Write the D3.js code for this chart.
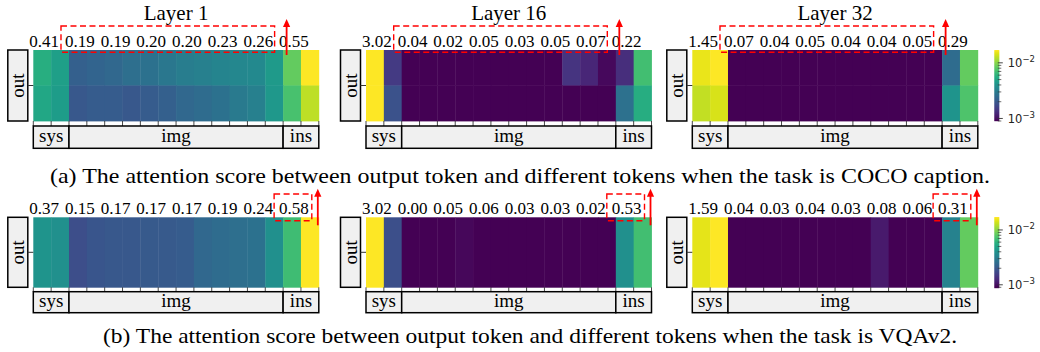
<!DOCTYPE html>
<html><head><meta charset="utf-8">
<script src="https://cdn.jsdelivr.net/npm/d3@7"></script>
<style>html,body{margin:0;padding:0;background:#fff;}svg{display:block;}</style>
</head><body>
<script>
// ---------------- data ----------------
const layers = ["Layer 1", "Layer 16", "Layer 32"];
const groupNames = ["sys", "img", "ins"];
const groupStart = [0, 2, 14];
const groupEnd = [2, 14, 16];
const rowNamesLabel = "out";
const captions = [
  "(a) The attention score between output token and different tokens when the task is COCO caption.",
  "(b) The attention score between output token and different tokens when the task is VQAv2."
];
const cbTicks = [0.001, 0.01];
const cbTickLabels = ["−3", "−2"];
const cbMinor = [0.0009, 0.002, 0.003, 0.004, 0.005, 0.006, 0.007, 0.008, 0.009];

// COCO caption, two output rows, 16 token columns (2 sys, 12 img, 2 ins)
const cocoL1 = [
  [0.0057, 0.0047, 0.0022, 0.0023, 0.0024, 0.0026, 0.0027, 0.0029, 0.0031, 0.0032, 0.0034, 0.0035, 0.0036, 0.0044, 0.0084, 0.018],
  [0.0052, 0.0045, 0.0020, 0.0021, 0.0021, 0.0020, 0.0021, 0.0022, 0.0024, 0.0025, 0.0027, 0.0030, 0.0032, 0.0043, 0.0072, 0.0127]
];
const cocoL16 = [
  [0.018, 0.00148, 0.0008, 0.0008, 0.0008, 0.0008, 0.0008, 0.0008, 0.0008, 0.0008, 0.0008, 0.0014, 0.00124, 0.00096, 0.00132, 0.0070],
  [0.018, 0.00188, 0.0008, 0.0008, 0.0008, 0.0008, 0.0008, 0.0008, 0.0008, 0.0008, 0.0008, 0.0008, 0.0008, 0.0008, 0.00267, 0.0056]
];
const cocoL32 = [
  [0.0155, 0.018, 0.0008, 0.0008, 0.0008, 0.0008, 0.0008, 0.0008, 0.0008, 0.0008, 0.0008, 0.0008, 0.0008, 0.0008, 0.0025, 0.0084],
  [0.0130, 0.0143, 0.0008, 0.0008, 0.0008, 0.0008, 0.0008, 0.0008, 0.0008, 0.0008, 0.0008, 0.0008, 0.0008, 0.0008, 0.0041, 0.0075]
];
// VQAv2, one output row
const vqaL1 = [
  [0.0041, 0.0039, 0.0018, 0.00195, 0.0020, 0.0020, 0.00205, 0.00205, 0.0021, 0.0024, 0.0025, 0.0026, 0.0027, 0.0039, 0.0068, 0.018]
];
const vqaL16 = [
  [0.018, 0.00183, 0.0008, 0.0008, 0.0008, 0.00095, 0.0008, 0.0008, 0.0008, 0.0008, 0.0008, 0.0008, 0.0008, 0.0008, 0.0039, 0.0070]
];
const vqaL32 = [
  [0.0151, 0.018, 0.0008, 0.0008, 0.0008, 0.0008, 0.0008, 0.0008, 0.0008, 0.0008, 0.0011, 0.00088, 0.00085, 0.00088, 0.0033, 0.0084]
];

// numbers printed above each pair of columns
const cocoNums = [
  ["0.41", "0.19", "0.19", "0.20", "0.20", "0.23", "0.26", "0.55"],
  ["3.02", "0.04", "0.02", "0.05", "0.03", "0.05", "0.07", "0.22"],
  ["1.45", "0.07", "0.04", "0.05", "0.04", "0.04", "0.05", "0.29"]
];
const vqaNums = [
  ["0.37", "0.15", "0.17", "0.17", "0.17", "0.19", "0.24", "0.58"],
  ["3.02", "0.00", "0.05", "0.06", "0.03", "0.03", "0.02", "0.53"],
  ["1.59", "0.04", "0.03", "0.04", "0.03", "0.08", "0.06", "0.31"]
];

// ---------------- layout ----------------
const W = 1040, H = 352;
const serif = "'Liberation Serif', 'Times New Roman', serif";
const sans = "'DejaVu Sans', sans-serif";
const RED = "#ff0000";
const panelX = [33.3, 366, 692.3];
const panelW = 285.5;
const rowsLayout = [
  { top: 50, bottom: 121, labTop: 126, labBot: 148.3, cap: 182.5, mats: [cocoL1, cocoL16, cocoL32], nums: cocoNums, capX: [50, 990] },
  { top: 217.3, bottom: 287.3, labTop: 291.7, labBot: 312.7, cap: 343, mats: [vqaL1, vqaL16, vqaL32], nums: vqaNums, capX: [103, 957] }
];

const color = d3.scaleSequentialLog(d3.interpolateViridis).domain([0.0009, 0.017]).clamp(true);

const svg = d3.select("body").append("svg").attr("width", W).attr("height", H);

function arrow(g, x, y0, yTip) {
  g.append("line").attr("x1", x).attr("x2", x).attr("y1", y0).attr("y2", yTip + 6)
    .attr("stroke", RED).attr("stroke-width", 1.8);
  g.append("path").attr("d", `M${x},${yTip} L${x - 3.6},${yTip + 8} L${x + 3.6},${yTip + 8} Z`).attr("fill", RED);
}

rowsLayout.forEach((R, ri) => {
  R.mats.forEach((mat, pi) => {
    const x0 = panelX[pi];
    const g = svg.append("g");
    const xs = d3.scaleBand().domain(d3.range(16)).range([x0, x0 + panelW]);
    const ys = d3.scaleBand().domain(d3.range(mat.length)).range([R.top, R.bottom]);
    const bw = xs.bandwidth();

    // cells
    mat.forEach((row, i) => {
      g.selectAll(null).data(row).enter().append("rect")
        .attr("x", (d, j) => xs(j)).attr("y", ys(i))
        .attr("width", bw + 0.4).attr("height", ys.bandwidth() + 0.4)
        .attr("fill", d => color(d));
    });

    // "out" box and y tick
    const ym = (R.top + R.bottom) / 2;
    g.append("rect").attr("x", x0 - 25.5).attr("y", R.top).attr("width", 20).attr("height", R.bottom - R.top)
      .attr("fill", "#f0f0f0").attr("stroke", "#000").attr("stroke-width", 1.5);
    g.append("line").attr("x1", x0 - 5.5).attr("x2", x0).attr("y1", ym).attr("y2", ym)
      .attr("stroke", "#333").attr("stroke-width", 1);
    g.append("text").attr("transform", `translate(${x0 - 15.5},${ym}) rotate(-90)`)
      .attr("text-anchor", "middle").attr("dy", "0.33em")
      .attr("font-family", serif).attr("font-size", 19).text(rowNamesLabel);

    // x ticks at column edges
    g.selectAll(null).data(d3.range(17)).enter().append("line")
      .attr("x1", k => k < 16 ? xs(k) : x0 + panelW).attr("x2", k => k < 16 ? xs(k) : x0 + panelW)
      .attr("y1", R.bottom).attr("y2", R.labTop)
      .attr("stroke", "#333").attr("stroke-width", 0.9);

    // group label boxes
    groupNames.forEach((nm, k) => {
      const a = xs(groupStart[k]);
      const b = groupEnd[k] < 16 ? xs(groupEnd[k]) : x0 + panelW;
      g.append("rect").attr("x", a).attr("y", R.labTop).attr("width", b - a).attr("height", R.labBot - R.labTop)
        .attr("fill", "#f0f0f0").attr("stroke", "#000").attr("stroke-width", 1.5);
      g.append("text").attr("x", (a + b) / 2).attr("y", R.labTop + 15.5).attr("text-anchor", "middle")
        .attr("font-family", serif).attr("font-size", 19).text(nm);
    });

    // numbers above column pairs
    R.nums[pi].forEach((t, k) => {
      g.append("text").attr("x", xs(2 * k) + bw - 7).attr("y", R.top - 3.2).attr("text-anchor", "middle")
        .attr("font-family", serif).attr("font-size", 17).text(t);
    });

    // title
    if (ri === 0) {
      g.append("text").attr("x", x0 + panelW / 2).attr("y", 20).attr("text-anchor", "middle")
        .attr("font-family", serif).attr("font-size", 21).text(layers[pi]);
    }

    // red dashed box + arrow
    if (ri === 0) {
      const a = xs(2) - 8, b = xs(14) - 8.5;
      g.append("rect").attr("x", a).attr("y", R.top - 24).attr("width", b - a).attr("height", 26.3)
        .attr("fill", "none").attr("stroke", RED).attr("stroke-width", 1.4).attr("stroke-dasharray", "6,3.5");
      arrow(g, xs(14) + 3.5, R.top + 5, R.top - 31);
    } else {
      const a = xs(14) - 9, b = x0 + panelW - 7;
      g.append("rect").attr("x", a).attr("y", R.top - 23.3).attr("width", b - a).attr("height", 26.7)
        .attr("fill", "none").attr("stroke", RED).attr("stroke-width", 1.4).attr("stroke-dasharray", "6,3.5");
      arrow(g, x0 + panelW - 1, R.top + 8, R.top - 28.5);
    }
  });

  // colorbar
  const cb = svg.append("g");
  const cx = 994.3, cw = 5;
  const cy = d3.scaleLog().domain(color.domain()).range([R.bottom, R.top]);
  d3.range(Math.floor(R.top), Math.ceil(R.bottom)).forEach(py => {
    cb.append("rect").attr("x", cx).attr("y", py).attr("width", cw).attr("height", 1.2)
      .attr("fill", color(cy.invert(py + 0.5)));
  });
  cb.selectAll(null).data(cbMinor.filter(v => cy(v) <= R.bottom + 0.5 && cy(v) >= R.top)).enter().append("line")
    .attr("x1", cx + cw - 1.5).attr("x2", cx + cw + 2).attr("y1", d => cy(d)).attr("y2", d => cy(d))
    .attr("stroke", "#333").attr("stroke-width", 0.7);
  cbTicks.forEach((v, k) => {
    const y = cy(v);
    cb.append("line").attr("x1", cx + cw - 1.5).attr("x2", cx + cw + 3.5).attr("y1", y).attr("y2", y)
      .attr("stroke", "#333").attr("stroke-width", 0.9);
    const t = cb.append("text").attr("x", cx + 13.5).attr("y", y + 4.5)
      .attr("font-family", sans).attr("font-size", 11.5).attr("fill", "#222");
    t.append("tspan").text("10");
    t.append("tspan").attr("dy", -5).attr("font-size", 8.5).text(cbTickLabels[k]);
  });

  // caption
  svg.append("text").attr("x", R.capX[0]).attr("y", R.cap)
    .attr("font-family", serif).attr("font-size", 22)
    .attr("textLength", R.capX[1] - R.capX[0]).attr("lengthAdjust", "spacingAndGlyphs")
    .text(captions[ri]);
});
</script>
</body></html>
